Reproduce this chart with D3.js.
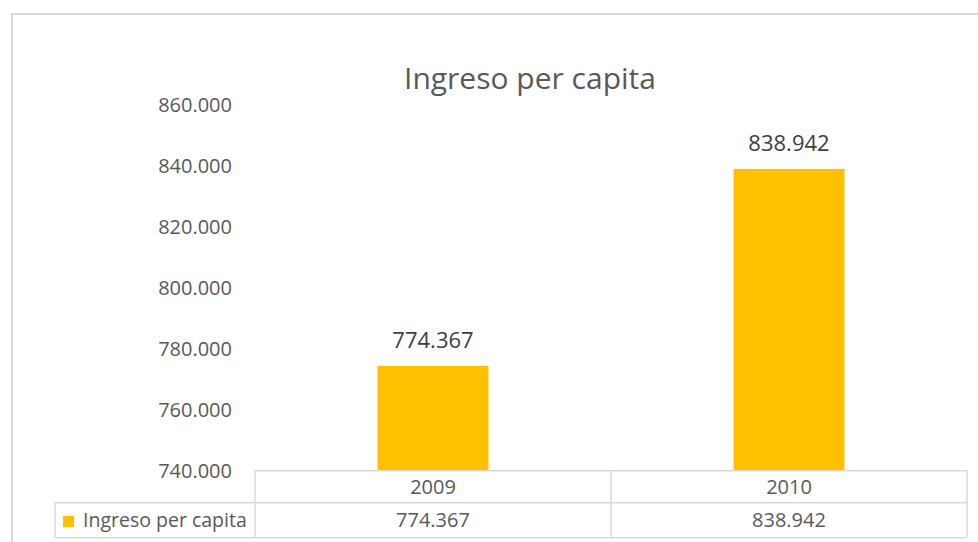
<!doctype html>
<html>
<head>
    <meta charset="UTF-8">
    <title>Ingreso per capita</title>
    <script src="https://d3js.org/d3.v7.min.js"></script>
    <style>
        body { margin: 0; background: #fff; }
        text { font-family: "Open Sans", sans-serif; }
    </style>
</head>
<body>
    <svg width="978" height="542"></svg>
    <script>
        // data
        var years = ["2009", "2010"];
        var ingreso = [774367, 838942];
        var yTicks = [740000, 760000, 780000, 800000, 820000, 840000, 860000];
        var seriesName = "Ingreso per capita";

        var svg = d3.select("svg");
        var es = d3.formatLocale({ decimal: ",", thousands: ".", grouping: [3], currency: ["$", ""] });
        var fmt = es.format(",d");

        // plot area (names avoid window.top)
        var pLeft = 255, pRight = 967, pTop = 104.7, pBottom = 470.7;
        var x = d3.scaleBand().domain(years).range([pLeft, pRight]).paddingInner(0).paddingOuter(0);
        var y = d3.scaleLinear().domain([740000, 860000]).range([pBottom, pTop]);
        var barW = 111;

        // outer border
        svg.append("path")
            .attr("d", "M12,542 V14 H980")
            .attr("fill", "none")
            .attr("stroke", "#d9d9d9")
            .attr("stroke-width", 2);

        // title
        svg.append("text")
            .attr("x", 530).attr("y", 89)
            .attr("text-anchor", "middle")
            .attr("font-size", 30)
            .attr("fill", "#595959")
            .text(seriesName);

        // y axis
        var yAxis = d3.axisLeft(y).tickValues(yTicks).tickFormat(fmt).tickSize(0).tickPadding(0);
        var ya = svg.append("g").attr("transform", "translate(232,0)").call(yAxis);
        ya.select(".domain").remove();
        ya.selectAll("text")
            .attr("font-size", 20)
            .attr("fill", "#595959")
            .attr("font-family", "'Open Sans', sans-serif");

        // bars
        svg.selectAll("rect.bar").data(ingreso).enter().append("rect")
            .attr("class", "bar")
            .attr("x", function (d, i) { return x(years[i]) + x.bandwidth() / 2 - barW / 2; })
            .attr("y", function (d) { return y(d); })
            .attr("width", barW)
            .attr("height", function (d) { return pBottom - y(d); })
            .attr("fill", "#ffc000");

        // data labels
        svg.selectAll("text.lbl").data(ingreso).enter().append("text")
            .attr("class", "lbl")
            .attr("x", function (d, i) { return x(years[i]) + x.bandwidth() / 2; })
            .attr("y", function (d) { return y(d) - 18; })
            .attr("text-anchor", "middle")
            .attr("font-size", 22)
            .attr("fill", "#404040")
            .text(function (d) { return fmt(d); });

        // data table
        var row1 = 502.7, row2 = 537.7;
        var g = svg.append("g").attr("stroke", "#d9d9d9").attr("stroke-width", 1.5).attr("fill", "none");
        g.append("line").attr("x1", pLeft).attr("x2", pRight).attr("y1", pBottom).attr("y2", pBottom);
        g.append("line").attr("x1", 55).attr("x2", pRight).attr("y1", row1).attr("y2", row1);
        g.append("line").attr("x1", 55).attr("x2", pRight).attr("y1", row2).attr("y2", row2);
        g.append("line").attr("x1", 55).attr("x2", 55).attr("y1", row1).attr("y2", row2);
        g.append("line").attr("x1", pLeft).attr("x2", pLeft).attr("y1", pBottom).attr("y2", row2);
        g.append("line").attr("x1", pRight).attr("x2", pRight).attr("y1", pBottom).attr("y2", row2);
        years.forEach(function (yr, i) {
            if (i > 0) {
                g.append("line").attr("x1", x(yr)).attr("x2", x(yr)).attr("y1", pBottom).attr("y2", row2);
            }
        });

        svg.selectAll("text.cat").data(years).enter().append("text")
            .attr("class", "cat")
            .attr("x", function (d) { return x(d) + x.bandwidth() / 2; })
            .attr("y", 494)
            .attr("text-anchor", "middle")
            .attr("font-size", 20)
            .attr("fill", "#595959")
            .text(function (d) { return d; });

        svg.selectAll("text.val").data(ingreso).enter().append("text")
            .attr("class", "val")
            .attr("x", function (d, i) { return x(years[i]) + x.bandwidth() / 2; })
            .attr("y", 527)
            .attr("text-anchor", "middle")
            .attr("font-size", 20)
            .attr("fill", "#595959")
            .text(function (d) { return fmt(d); });

        // legend key
        svg.append("rect").attr("x", 63).attr("y", 516).attr("width", 11).attr("height", 11).attr("fill", "#ffc000");
        svg.append("text")
            .attr("x", 83).attr("y", 527)
            .attr("font-size", 19.5)
            .attr("fill", "#595959")
            .text(seriesName);
    </script>
</body>
</html>
